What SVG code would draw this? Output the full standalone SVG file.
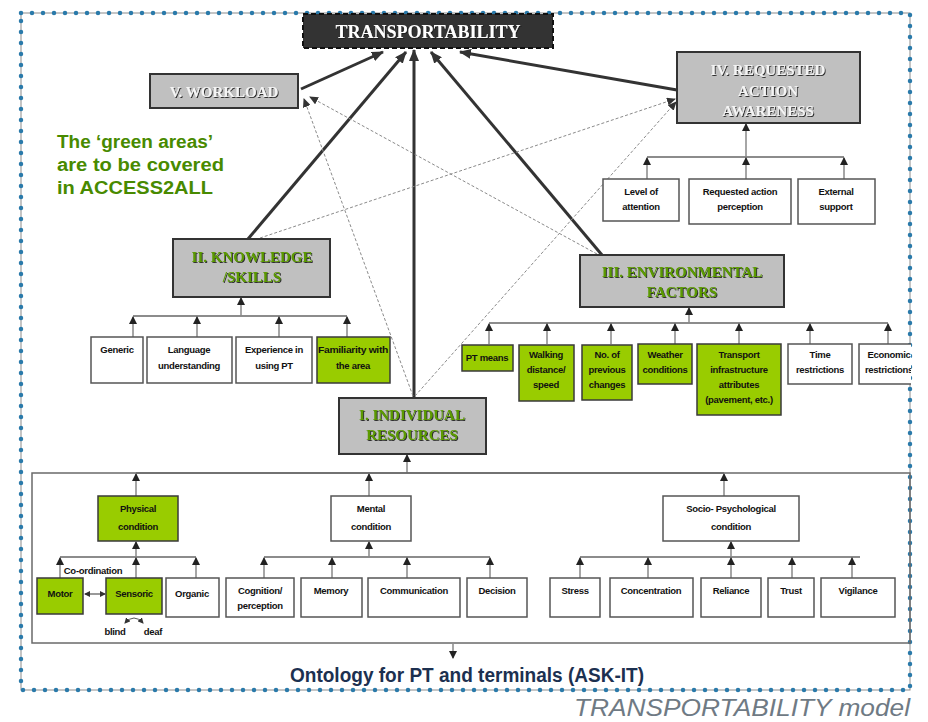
<svg xmlns="http://www.w3.org/2000/svg" width="928" height="722" viewBox="0 0 928 722">
<style>
.b{fill:#fff;stroke:#555;stroke-width:1.5}
.g{fill:#99cc00;stroke:#3a3a3a;stroke-width:1.5}
.h{fill:#c0c0c0;stroke:#333;stroke-width:2}
.t{font-family:"Liberation Sans",Arial,sans-serif;font-size:9.5px;font-weight:bold;fill:#111;text-anchor:middle;letter-spacing:-0.3px}
.hg{font-family:"Liberation Serif","Times New Roman",serif;font-weight:bold;font-size:15px;fill:#5c9a00;text-anchor:middle;filter:url(#sh)}
.hw{font-family:"Liberation Serif","Times New Roman",serif;font-weight:bold;font-size:15px;fill:#f4f4f4;text-anchor:middle;filter:url(#sh)}
.thick{stroke:#333;stroke-width:3;fill:none;marker-end:url(#ab)}
.dash{stroke:#8a8a8a;stroke-width:1;stroke-dasharray:3 2;fill:none;marker-end:url(#ad)}
.bus{stroke:#666;stroke-width:1.5;fill:none}
.stem{stroke:#888;stroke-width:1.5;fill:none;marker-end:url(#a)}
.note{font-family:"Liberation Sans",Arial,sans-serif;font-weight:bold;font-size:18px;fill:#488a00}
</style>
<defs>
<marker id="a" markerUnits="userSpaceOnUse" markerWidth="8" markerHeight="8" refX="7" refY="4" orient="auto"><path d="M0,0 L8,4 L0,8 z" fill="#222"/></marker>
<marker id="ab" markerUnits="userSpaceOnUse" markerWidth="12" markerHeight="10" refX="11" refY="5" orient="auto"><path d="M0,0 L12,5 L0,10 z" fill="#333"/></marker>
<marker id="ad" markerUnits="userSpaceOnUse" markerWidth="9" markerHeight="8" refX="8" refY="4" orient="auto"><path d="M0,0 L9,4 L0,8 z" fill="#333"/></marker>
<marker id="as" markerUnits="userSpaceOnUse" markerWidth="6" markerHeight="6" refX="5" refY="3" orient="auto-start-reverse"><path d="M0,0 L6,3 L0,6 z" fill="#333"/></marker>
<filter id="sh" x="-10%" y="-30%" width="120%" height="160%"><feDropShadow dx="1" dy="1" stdDeviation="0.6" flood-color="#1a1a1a" flood-opacity="0.9"/></filter>
<clipPath id="clipR"><rect x="0" y="0" width="911" height="722"/></clipPath>
</defs>
<rect width="928" height="722" fill="#fff"/>

<g id="border">
<rect x="21" y="13" width="889" height="677" fill="none" stroke="#8c8c8c" stroke-width="1"/>
<rect x="21" y="13" width="889" height="677" fill="none" stroke="#2a7aaa" stroke-width="4.5" stroke-dasharray="0 11" stroke-linecap="round"/>
</g>

<g id="connectors">
<line class="thick" x1="301" y1="89" x2="383" y2="52"/>
<line class="thick" x1="248" y1="239" x2="406" y2="52"/>
<line class="thick" x1="414" y1="398" x2="414" y2="50"/>
<line class="thick" x1="602" y1="255" x2="431" y2="52"/>
<line class="thick" x1="677" y1="90" x2="460" y2="52"/>
<line class="dash" x1="413" y1="396" x2="304" y2="99"/>
<line class="dash" x1="597" y1="254" x2="310" y2="97"/>
<line class="dash" x1="260" y1="238" x2="675" y2="99"/>
<line class="dash" x1="415" y1="396" x2="676" y2="102"/>
<line class="bus" x1="647" y1="157" x2="844" y2="157"/>
<line class="stem" x1="746" y1="157" x2="746" y2="124"/>
<line class="stem" x1="647" y1="179" x2="647" y2="158"/>
<line class="stem" x1="746" y1="179" x2="746" y2="158"/>
<line class="stem" x1="844" y1="179" x2="844" y2="158"/>
<line class="bus" x1="133" y1="316" x2="347" y2="316" stroke="#222"/>
<line class="stem" x1="241" y1="316" x2="241" y2="298"/>
<line class="stem" x1="133" y1="337" x2="133" y2="317"/>
<line class="stem" x1="197" y1="337" x2="197" y2="317"/>
<line class="stem" x1="279" y1="337" x2="279" y2="317"/>
<line class="stem" x1="347" y1="337" x2="347" y2="317"/>
<line class="bus" x1="489" y1="323" x2="888" y2="323"/>
<line class="stem" x1="689" y1="323" x2="689" y2="308"/>
<line class="stem" x1="489" y1="344" x2="489" y2="324"/>
<line class="stem" x1="547" y1="344" x2="547" y2="324"/>
<line class="stem" x1="611" y1="344" x2="611" y2="324"/>
<line class="stem" x1="675" y1="344" x2="675" y2="324"/>
<line class="stem" x1="739" y1="344" x2="739" y2="324"/>
<line class="stem" x1="810" y1="344" x2="810" y2="324"/>
<line class="stem" x1="888" y1="344" x2="888" y2="324"/>
<line class="stem" x1="407" y1="473" x2="407" y2="455"/>
<line class="bus" x1="136" y1="473" x2="724" y2="473" stroke="#444" stroke-width="2"/>
<line class="stem" x1="136" y1="496" x2="136" y2="474"/>
<line class="stem" x1="369" y1="496" x2="369" y2="474"/>
<line class="stem" x1="724" y1="496" x2="724" y2="474"/>
<line class="bus" x1="60" y1="557" x2="196" y2="557"/>
<line class="stem" x1="136" y1="557" x2="136" y2="542"/>
<line class="stem" x1="60" y1="578" x2="60" y2="558"/>
<line class="stem" x1="136" y1="578" x2="136" y2="558"/>
<line class="stem" x1="196" y1="578" x2="196" y2="558"/>
<line x1="85" y1="594" x2="105" y2="594" stroke="#555" stroke-width="1.2" marker-start="url(#as)" marker-end="url(#as)"/>
<path d="M125,623 Q134,613 143,623" fill="none" stroke="#555" stroke-width="1" marker-start="url(#as)" marker-end="url(#as)"/>
<line class="bus" x1="264" y1="557" x2="490" y2="557"/>
<line class="stem" x1="369" y1="557" x2="369" y2="542"/>
<line class="stem" x1="264" y1="578" x2="264" y2="558"/>
<line class="stem" x1="332" y1="578" x2="332" y2="558"/>
<line class="stem" x1="407" y1="578" x2="407" y2="558"/>
<line class="stem" x1="490" y1="578" x2="490" y2="558"/>
<line class="bus" x1="580" y1="557" x2="860" y2="557"/>
<line class="stem" x1="731" y1="557" x2="731" y2="542"/>
<line class="stem" x1="580" y1="578" x2="580" y2="558"/>
<line class="stem" x1="648" y1="578" x2="648" y2="558"/>
<line class="stem" x1="731" y1="578" x2="731" y2="558"/>
<line class="stem" x1="792" y1="578" x2="792" y2="558"/>
<line class="stem" x1="852" y1="578" x2="852" y2="558"/>
<line class="stem" x1="453" y1="644" x2="453" y2="658"/>
</g>

<g id="frame">
<rect x="32" y="473" width="878" height="170" fill="none" stroke="#6a6a6a" stroke-width="1.5"/>
</g>

<g id="transportability">
<rect x="303" y="14" width="250" height="34" fill="#333" stroke="#111" stroke-width="2" stroke-dasharray="5 3"/>
<text x="428" y="38" font-family="Liberation Serif,serif" font-weight="bold" font-size="18" fill="#fff" text-anchor="middle" filter="url(#sh)">TRANSPORTABILITY</text>
</g>

<g id="workload">
<rect class="h" x="150" y="74" width="148" height="34"/>
<text class="hw" x="224" y="97">V. WORKLOAD</text>
</g>

<g id="requested">
<rect class="h" x="677" y="52" width="183" height="71"/>
<text class="hw" x="768" y="75">IV. REQUESTED</text>
<text class="hw" x="768" y="96">ACTION</text>
<text class="hw" x="768" y="116">AWARENESS</text>
</g>

<g id="note">
<text class="note" textLength="156" lengthAdjust="spacingAndGlyphs" x="57" y="148">The ‘green areas’</text>
<text class="note" textLength="167" lengthAdjust="spacingAndGlyphs" x="57" y="171">are to be covered</text>
<text class="note" textLength="156" lengthAdjust="spacingAndGlyphs" x="57" y="194">in ACCESS2ALL</text>
</g>

<g id="level-attention"><rect class="b" x="603" y="179" width="76" height="42"/><text class="t" x="641" y="195">Level of</text><text class="t" x="641" y="210">attention</text></g>
<g id="req-perception"><rect class="b" x="689" y="179" width="102" height="45"/><text class="t" x="740" y="195">Requested action</text><text class="t" x="740" y="210">perception</text></g>
<g id="external-support"><rect class="b" x="798" y="179" width="77" height="45"/><text class="t" x="836" y="195">External</text><text class="t" x="836" y="210">support</text></g>

<g id="knowledge">
<rect class="h" x="173" y="239" width="157" height="58"/>
<text class="hg" x="252" y="262">II. KNOWLEDGE</text>
<text class="hg" x="252" y="282">/SKILLS</text>
</g>
<g id="generic"><rect class="b" x="91" y="337" width="52" height="46"/><text class="t" x="117" y="353">Generic</text></g>
<g id="language"><rect class="b" x="147" y="337" width="85" height="46"/><text class="t" x="189" y="353">Language</text><text class="t" x="189" y="369">understanding</text></g>
<g id="experience"><rect class="b" x="236" y="337" width="76" height="46"/><text class="t" x="274" y="353">Experience in</text><text class="t" x="274" y="369">using PT</text></g>
<g id="familiarity"><rect class="g" x="317" y="337" width="73" height="46"/><text class="t" x="353" y="353" textLength="70" lengthAdjust="spacingAndGlyphs">Familiarity with</text><text class="t" x="353" y="369">the area</text></g>

<g id="environmental">
<rect class="h" x="580" y="255" width="204" height="52"/>
<text class="hg" x="682" y="277">III. ENVIRONMENTAL</text>
<text class="hg" x="682" y="297">FACTORS</text>
</g>
<g id="pt-means"><rect class="g" x="462" y="345" width="51" height="26"/><text class="t" x="487" y="361">PT means</text></g>
<g id="walking"><rect class="g" x="519" y="345" width="55" height="56"/><text class="t" x="546" y="358">Walking</text><text class="t" x="546" y="373">distance/</text><text class="t" x="546" y="388">speed</text></g>
<g id="changes"><rect class="g" x="582" y="345" width="50" height="55"/><text class="t" x="607" y="358">No. of</text><text class="t" x="607" y="373">previous</text><text class="t" x="607" y="388">changes</text></g>
<g id="weather"><rect class="g" x="638" y="344" width="54" height="40"/><text class="t" x="665" y="358">Weather</text><text class="t" x="665" y="373">conditions</text></g>
<g id="transport-infra"><rect class="g" x="697" y="344" width="84" height="71"/><text class="t" x="739" y="358">Transport</text><text class="t" x="739" y="373">infrastructure</text><text class="t" x="739" y="388">attributes</text><text class="t" x="739" y="403">(pavement, etc.)</text></g>
<g id="time"><rect class="b" x="788" y="344" width="64" height="40"/><text class="t" x="820" y="358">Time</text><text class="t" x="820" y="373">restrictions</text></g>
<g id="economic" clip-path="url(#clipR)"><rect class="b" x="859" y="344" width="60" height="40"/><text class="t" x="889" y="358">Economic</text><text class="t" x="889" y="373">restrictions</text></g>

<g id="individual">
<rect class="h" x="339" y="398" width="147" height="56"/>
<text class="hg" x="412" y="420">I. INDIVIDUAL</text>
<text class="hg" x="412" y="440">RESOURCES</text>
</g>

<g id="physical"><rect class="g" x="98" y="496" width="80" height="45"/><text class="t" x="138" y="512">Physical</text><text class="t" x="138" y="530">condition</text></g>
<g id="mental"><rect class="b" x="331" y="496" width="80" height="45"/><text class="t" x="371" y="512">Mental</text><text class="t" x="371" y="530">condition</text></g>
<g id="socio"><rect class="b" x="663" y="496" width="136" height="45"/><text class="t" x="731" y="512">Socio- Psychological</text><text class="t" x="731" y="530">condition</text></g>

<g id="coordination"><text class="t" x="93" y="574">Co-ordination</text></g>
<g id="motor"><rect class="g" x="37" y="578" width="46" height="36"/><text class="t" x="60" y="597">Motor</text></g>
<g id="sensoric"><rect class="g" x="106" y="578" width="56" height="36"/><text class="t" x="134" y="597">Sensoric</text></g>
<g id="blind"><text class="t" x="115" y="635">blind</text></g>
<g id="deaf"><text class="t" x="153" y="635">deaf</text></g>
<g id="organic"><rect class="b" x="166" y="578" width="53" height="39"/><text class="t" x="192" y="597">Organic</text></g>
<g id="cognition"><rect class="b" x="226" y="578" width="68" height="39"/><text class="t" x="260" y="594">Cognition/</text><text class="t" x="260" y="609">perception</text></g>
<g id="memory"><rect class="b" x="301" y="578" width="61" height="39"/><text class="t" x="331" y="594">Memory</text></g>
<g id="communication"><rect class="b" x="368" y="578" width="92" height="39"/><text class="t" x="414" y="594">Communication</text></g>
<g id="decision"><rect class="b" x="467" y="578" width="60" height="39"/><text class="t" x="497" y="594">Decision</text></g>
<g id="stress"><rect class="b" x="550" y="578" width="50" height="39"/><text class="t" x="575" y="594">Stress</text></g>
<g id="concentration"><rect class="b" x="610" y="578" width="83" height="39"/><text class="t" x="651" y="594">Concentration</text></g>
<g id="reliance"><rect class="b" x="701" y="578" width="60" height="39"/><text class="t" x="731" y="594">Reliance</text></g>
<g id="trust"><rect class="b" x="768" y="578" width="46" height="39"/><text class="t" x="791" y="594">Trust</text></g>
<g id="vigilance"><rect class="b" x="821" y="578" width="74" height="39"/><text class="t" x="858" y="594">Vigilance</text></g>

<g id="ontology"><text x="290" y="682" font-family="Liberation Sans,Arial,sans-serif" font-weight="bold" font-size="20" fill="#1c3050" textLength="354" lengthAdjust="spacingAndGlyphs">Ontology for PT and terminals (ASK-IT)</text></g>
<g id="caption"><text x="574" y="716" font-family="Liberation Sans,Arial,sans-serif" font-style="italic" font-size="23" fill="#6f7a84" textLength="336" lengthAdjust="spacingAndGlyphs">TRANSPORTABILITY model</text></g>
</svg>
